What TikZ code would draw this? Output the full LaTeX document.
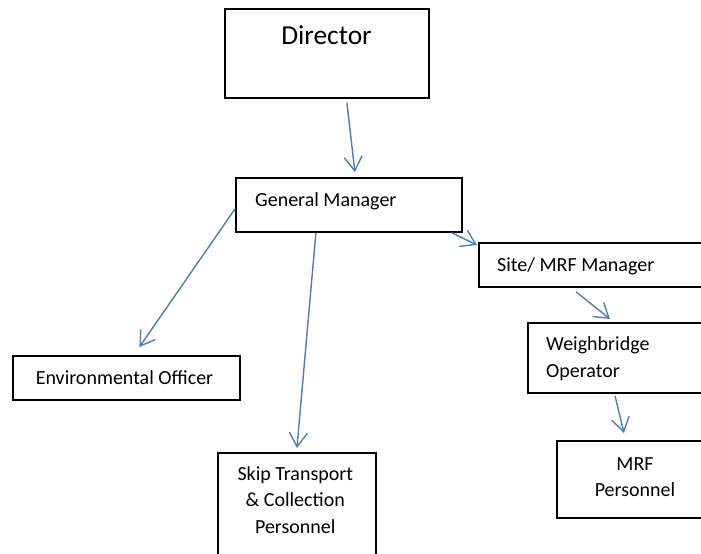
\documentclass[tikz,border=0pt]{standalone}
\usepackage{fontspec}
\setmainfont{Carlito}
\usetikzlibrary{arrows.meta,calc}
\definecolor{arrowblue}{RGB}{74,126,187}
\begin{document}
\begin{tikzpicture}[x=1bp,y=-1bp,
  box/.style={draw=black,line width=1.8bp,inner sep=0pt,anchor=north west},
  txt/.style={inner sep=0pt,font=\fontsize{20bp}{27bp}\selectfont},
  conn/.style={draw=arrowblue,line width=1.4bp,-{Straight Barb[length=14bp,width=18bp]}}]
\useasboundingbox (0,0) rectangle (701,554);
\clip (0,0) rectangle (701,554);
% boxes
\node[box,minimum width=204bp,minimum height=89bp] (dir) at (224,8) {};
\node[box,minimum width=226bp,minimum height=54bp] (gm) at (235,177) {};
\node[box,minimum width=250bp,minimum height=44bp] (site) at (478,242) {};
\node[box,minimum width=200bp,minimum height=70bp] (wb) at (527,322) {};
\node[box,minimum width=160bp,minimum height=77bp] (mrf) at (556,440) {};
\node[box,minimum width=227bp,minimum height=44bp] (env) at (12,355) {};
\node[box,minimum width=158bp,minimum height=130bp] (skip) at (217,452) {};
% texts
\node[txt,anchor=base,font=\fontsize{27.4bp}{33bp}\selectfont] (dirT) at (326.5,44.5) {Director};
\node[txt,anchor=base west] (gmT) at (255,206.7) {General Manager};
\node[txt,anchor=base west] (siteT) at (497,271.7) {Site/ MRF Manager};
\node[txt,anchor=base west] (wbT1) at (546,350.7) {Weighbridge};
\node[txt,anchor=base west] (wbT2) at (546,377.3) {Operator};
\node[txt,anchor=base] (mrfT1) at (635,470) {MRF};
\node[txt,anchor=base] (mrfT2) at (635,496) {Personnel};
\node[txt,anchor=base] (envT) at (124.5,384.3) {Environmental Officer};
\node[txt,anchor=base] (skipT1) at (295.3,480.7) {Skip Transport};
\node[txt,anchor=base] (skipT2) at (295.3,506.7) {\& Collection};
\node[txt,anchor=base] (skipT3) at (295.3,533.3) {Personnel};
% connectors
\draw[conn] ($(dir.south)+(20,4)$) -- ($(gm.north)+(6,-5)$);
\draw[conn] ($(gm.south east)+(-11,0)$) -- ($(site.north west)+(-1,3)$);
\draw[conn] ($(gm.west)+(0,4)$) -- ($(env.north)+(13,-8)$);
\draw[conn] ($(gm.south)+(-33,0)$) -- ($(skip.north)+(0,-4)$);
\draw[conn] ($(site.south west)+(98,4)$) -- ($(wb.north west)+(83,-3)$);
\draw[conn] ($(wb.south west)+(88,2)$) -- ($(mrf.north west)+(68,-7)$);
\end{tikzpicture}
\end{document}
